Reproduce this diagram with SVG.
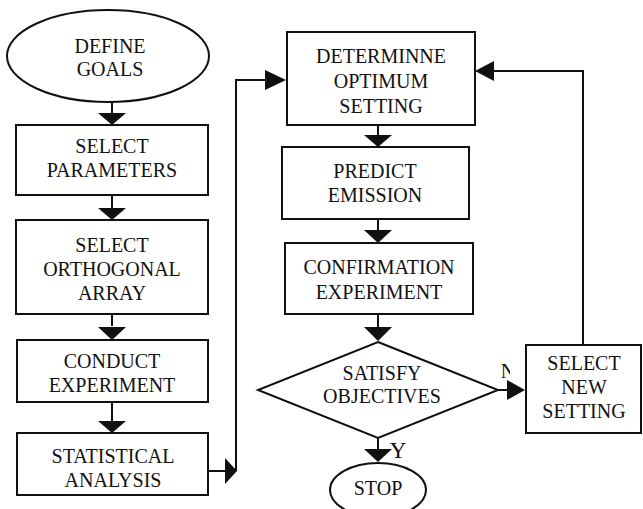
<svg xmlns="http://www.w3.org/2000/svg" width="643" height="509" viewBox="0 0 643 509">
<style>
.s{fill:#fff;stroke:#111;stroke-width:2}
.t{font-family:'Liberation Serif','Times New Roman','DejaVu Serif',serif;font-size:20px;fill:#111;text-anchor:middle}
.c{fill:none;stroke:#111;stroke-width:2}
.a{fill:#111;stroke:none}
</style>
<defs>
<clipPath id="nclip"><rect x="498" y="360" width="12" height="25"/></clipPath>
</defs>
<rect width="643" height="509" fill="#fff"/>
<g id="connectors">
<path class="c" d="M112 102V114M112 195V208M112 314V326M112 402V421"/>
<polygon class="a" points="98,113 126,113 112,125"/>
<polygon class="a" points="98,208 126,208 112,220"/>
<polygon class="a" points="98,327 126,327 112,340"/>
<polygon class="a" points="98,421 126,421 112,433"/>
<path class="c" d="M208 471H226M236 471V80H266"/>
<polygon class="a" points="225,458 237,471 225,484"/>
<polygon class="a" points="265,70 286,80 265,90"/>
<path class="c" d="M378 125V136M378 219V231M378 314V328M378 438V450M498 390H508M583 345V71H492"/>
<polygon class="a" points="364,135 392,135 378,147"/>
<polygon class="a" points="364,230 392,230 378,243"/>
<polygon class="a" points="364,327 392,327 378,341"/>
<polygon class="a" points="364,449 392,449 378,462"/>
<polygon class="a" points="507,380 525,390 507,400"/>
<polygon class="a" points="494,61 475,71 494,81"/>
<text class="t" x="508" y="378" clip-path="url(#nclip)">N</text>
<text class="t" x="398" y="458" style="font-size:23px">Y</text>
</g>
<g id="define-goals">
<ellipse class="s" cx="108" cy="56" rx="101" ry="46"/>
<text class="t" x="110" y="53">DEFINE</text>
<text class="t" x="110" y="76">GOALS</text>
</g>
<g id="select-parameters">
<rect class="s" x="16" y="125" width="192" height="70"/>
<text class="t" x="112" y="153">SELECT</text>
<text class="t" x="112" y="177">PARAMETERS</text>
</g>
<g id="select-orthogonal-array">
<rect class="s" x="16" y="220" width="192" height="94"/>
<text class="t" x="112" y="252">SELECT</text>
<text class="t" x="112" y="276">ORTHOGONAL</text>
<text class="t" x="112" y="300">ARRAY</text>
</g>
<g id="conduct-experiment">
<rect class="s" x="17" y="340" width="191" height="62"/>
<text class="t" x="112" y="368">CONDUCT</text>
<text class="t" x="112" y="392">EXPERIMENT</text>
</g>
<g id="statistical-analysis">
<rect class="s" x="17" y="433" width="191" height="62"/>
<text class="t" x="113" y="463">STATISTICAL</text>
<text class="t" x="113" y="487">ANALYSIS</text>
</g>
<g id="determine-optimum-setting">
<rect class="s" x="287" y="32" width="188" height="93"/>
<text class="t" x="381" y="63">DETERMINNE</text>
<text class="t" x="381" y="88">OPTIMUM</text>
<text class="t" x="381" y="113">SETTING</text>
</g>
<g id="predict-emission">
<rect class="s" x="282" y="147" width="187" height="72"/>
<text class="t" x="375" y="178">PREDICT</text>
<text class="t" x="375" y="202">EMISSION</text>
</g>
<g id="confirmation-experiment">
<rect class="s" x="285" y="243" width="188" height="71"/>
<text class="t" x="379" y="274">CONFIRMATION</text>
<text class="t" x="379" y="299">EXPERIMENT</text>
</g>
<g id="satisfy-objectives">
<polygon class="s" points="378,342 498,390 378,438 258,390"/>
<text class="t" x="382" y="380">SATISFY</text>
<text class="t" x="382" y="403">OBJECTIVES</text>
</g>
<g id="select-new-setting">
<rect class="s" x="526" y="345" width="115" height="88"/>
<text class="t" x="584" y="370">SELECT</text>
<text class="t" x="584" y="394">NEW</text>
<text class="t" x="584" y="418">SETTING</text>
</g>
<g id="stop">
<ellipse class="s" cx="378" cy="490" rx="48" ry="27"/>
<text class="t" x="378" y="495">STOP</text>
</g>
</svg>
